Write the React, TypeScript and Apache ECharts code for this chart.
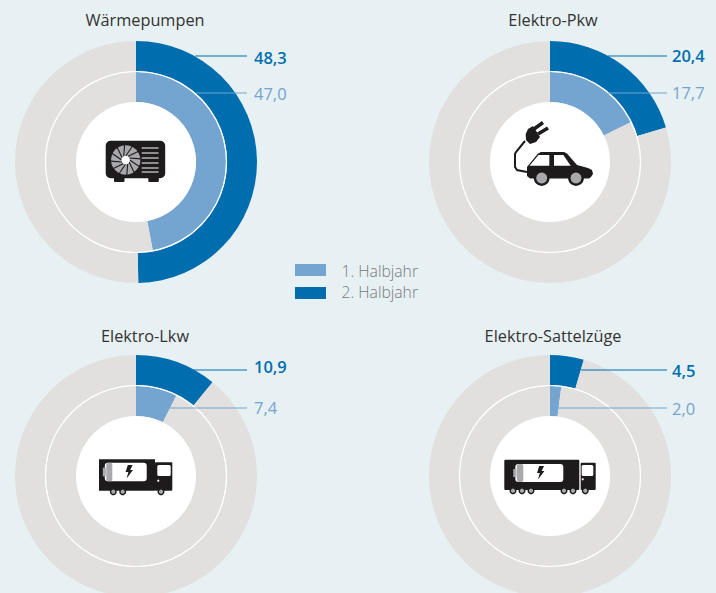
import React, { useEffect, useRef } from "react";
import * as echarts from "echarts";

const titles = ["Wärmepumpen", "Elektro-Pkw", "Elektro-Lkw", "Elektro-Sattelzüge"];
const firstHalfValues = [47.0, 17.7, 7.4, 2.0];
const secondHalfValues = [48.3, 20.4, 10.9, 4.5];
// Share of the ring as it is actually drawn in the picture
const secondHalfDrawn = [49.7, 20.4, 10.9, 4.5];
const legendLabels = ["1. Halbjahr", "2. Halbjahr"];

const DARK = "#006eae";
const LIGHT = "#74a4d0";
const GREY = "#e1e0df";
const BG = "#e7f0f2";
const INK = "#1e1b1c";
const ICON_GREY = "#a9a9ab";
const FONT = '"Open Sans", sans-serif';

const centers: [number, number][] = [[136, 162], [550, 162], [136, 476], [550, 476]];
const titlePos: [number, number][] = [[145, 20], [553, 20], [145, 336], [553, 336]];
const labelX = [254, 672, 254, 672];
const lineEnd = [247, 667, 247, 667];
const darkLine = [
  { y: 56, x0: 195 }, { y: 56, x0: 608 }, { y: 370, x0: 193 }, { y: 370, x0: 581 },
];
const lightLine = [
  { y: 93, x0: 196 }, { y: 93, x0: 608 }, { y: 408, x0: 170 }, { y: 408, x0: 558 },
];
const darkLabelY = [57, 55, 366, 370];
const lightLabelY = [93, 92, 407, 408];

const fmt = (v: number) => v.toFixed(1).replace(".", ",");

const ring = (c: [number, number], radius: [number, number], value: number, color: string) => ({
  type: "pie" as const,
  center: c,
  radius,
  startAngle: 90,
  clockwise: true,
  silent: true,
  label: { show: false },
  labelLine: { show: false },
  z: 1,
  data: [
    { value, itemStyle: { color } },
    { value: 100 - value, itemStyle: { color: GREY } },
  ],
});

echarts.graphic.registerShape(
  "bolt",
  echarts.graphic.extendPath("M2.2,0 L7,0 L4.6,5 L7.4,5 L1,13.5 L2.8,7 L0,7 Z", {}) as any
);

const rect = (x: number, y: number, w: number, h: number, fill: string, r = 0, z = 10) => ({
  type: "rect", z, silent: true, shape: { x, y, width: w, height: h, r }, style: { fill },
});
const circle = (cx: number, cy: number, r: number, fill: string, stroke?: string, lw = 0, z = 10) => ({
  type: "circle", z, silent: true, shape: { cx, cy, r }, style: { fill, stroke, lineWidth: lw },
});
const seg = (x1: number, y1: number, x2: number, y2: number, stroke: string, lw = 1, z = 10) => ({
  type: "line", z, silent: true, shape: { x1, y1, x2, y2 }, style: { stroke, lineWidth: lw },
});
const poly = (points: number[][], fill: string, z = 10) => ({
  type: "polygon", z, silent: true, shape: { points }, style: { fill },
});

function heatPump() {
  const els: any[] = [
    rect(114, 175, 10.5, 7, INK, 1),
    rect(148.3, 175, 10.5, 7, INK, 1),
    rect(105.7, 140.7, 59.5, 37.6, INK, 5),
    circle(125.7, 160, 14.7, ICON_GREY),
  ];
  const blades = 12;
  for (let i = 0; i < blades; i++) {
    const a = (i * 2 * Math.PI) / blades;
    const x1 = 125.7 + 4 * Math.cos(a);
    const y1 = 160 + 4 * Math.sin(a);
    const x2 = 125.7 + 15 * Math.cos(a + 0.45);
    const y2 = 160 + 15 * Math.sin(a + 0.45);
    els.push(seg(x1, y1, x2, y2, INK, 1.1, 11));
  }
  els.push(circle(125.7, 160, 4.2, "#ffffff", undefined, 0, 12));
  [148, 153, 158, 163, 168, 172].forEach((y) => els.push(seg(141.7, y, 158.6, y, "#ffffff", 1, 11)));
  return els;
}

function car() {
  return [
    poly([[527, 167], [538, 153.5], [541, 152], [564, 152], [567, 153.5], [577, 165], [588, 168], [592, 170], [593, 174], [591, 177], [589, 178.5], [530, 178.5], [527, 176]], INK),
    poly([[529.5, 165.7], [538.5, 155], [549.3, 155], [549.3, 165.7]], "#ffffff", 11),
    poly([[554, 155], [563.3, 155], [570.7, 165.7], [554, 165.7]], "#ffffff", 11),
    circle(541.7, 178, 6.7, ICON_GREY, INK, 2.4, 12),
    circle(576, 178, 6.7, ICON_GREY, INK, 2.4, 12),
    {
      type: "polyline", z: 10, silent: true,
      shape: { points: [[525, 141], [516, 152], [515, 154], [515, 167], [517, 170], [527, 172]] },
      style: { stroke: INK, lineWidth: 2, fill: "none" },
    },
    seg(534, 129, 543, 122.5, INK, 3.6),
    seg(538, 134, 548, 128, INK, 3.6),
    poly([[533, 126], [540, 137], [536, 142], [530, 144], [526, 140], [525.7, 134], [528, 129]], INK),
  ];
}

function vehicle(o: {
  box: number[]; cab: number[]; batt: number[]; battGrey: number; bolt: number[];
  win: number[]; dot: number[]; wheels: number[]; wheelY: number; r?: number;
}) {
  const els: any[] = [
    rect(o.box[0], o.box[1], o.box[2] - o.box[0], o.box[3] - o.box[1], INK, o.r ?? 0),
    rect(o.cab[0], o.cab[1], o.cab[2] - o.cab[0], o.cab[3] - o.cab[1], INK, 1),
    rect(o.batt[0], o.batt[1], o.batt[2] - o.batt[0], o.batt[3] - o.batt[1], "#ffffff", 3, 11),
    rect(o.batt[0] + 1.5, o.batt[1], o.battGrey - o.batt[0] - 1.5, o.batt[3] - o.batt[1], ICON_GREY, 2, 12),
    rect(o.batt[0] - 2, o.batt[1] + 5, 3, o.batt[3] - o.batt[1] - 10, ICON_GREY, 0, 11),
    { type: "bolt", x: o.bolt[0] - 3.7, y: o.bolt[1] - 6.7, z: 13, silent: true, style: { fill: INK } },
    rect(o.win[0], o.win[1], o.win[2] - o.win[0], o.win[3] - o.win[1], "#ffffff", 1.5, 11),
    circle(o.dot[0], o.dot[1], 1.1, "#ffffff", undefined, 0, 11),
  ];
  o.wheels.forEach((x) => els.push(circle(x, o.wheelY, 2.8, ICON_GREY, INK, 1.4, 12)));
  return els;
}

export default function App() {
  const ref = useRef<HTMLDivElement>(null);
  useEffect(() => {
    const chart = echarts.init(ref.current!, undefined, { renderer: "svg" });
    const series: any[] = [];
    const graphic: any[] = [];
    centers.forEach((c, i) => {
      series.push(ring(c, [91, 121], secondHalfDrawn[i], DARK));
      series.push(ring(c, [60, 90], firstHalfValues[i], LIGHT));
      graphic.push(circle(c[0], c[1], 90.5, "none", "#ffffff", 1.2, 5));
      graphic.push(circle(c[0], c[1], 60, "#ffffff", undefined, 0, 5));
      graphic.push({
        type: "text", z: 20, silent: true, x: titlePos[i][0], y: titlePos[i][1],
        style: { text: titles[i], font: `400 16.3px ${FONT}`, fill: "#333333", align: "center", verticalAlign: "middle" },
      });
      graphic.push(seg(darkLine[i].x0, darkLine[i].y, lineEnd[i], darkLine[i].y, DARK, 1.2, 6));
      graphic.push(seg(lightLine[i].x0, lightLine[i].y, lineEnd[i], lightLine[i].y, LIGHT, 1.2, 6));
      graphic.push({
        type: "text", z: 20, silent: true, x: labelX[i], y: darkLabelY[i],
        style: { text: fmt(secondHalfValues[i]), font: `600 16.5px ${FONT}`, fill: DARK, align: "left", verticalAlign: "middle" },
      });
      graphic.push({
        type: "text", z: 20, silent: true, x: labelX[i], y: lightLabelY[i],
        style: { text: fmt(firstHalfValues[i]), font: `400 16.5px ${FONT}`, fill: LIGHT, align: "left", verticalAlign: "middle" },
      });
    });
    graphic.push(rect(295, 264, 31, 12, LIGHT));
    graphic.push(rect(295, 287, 31, 12, DARK));
    [271, 292].forEach((y, i) => {
      graphic.push({
        type: "text", z: 20, silent: true, x: 418, y,
        style: { text: legendLabels[i], font: `300 15.7px ${FONT}`, fill: "#767a7c", align: "right", verticalAlign: "middle" },
      });
    });
    graphic.push(...heatPump(), ...car());
    graphic.push(...vehicle({
      box: [99, 459.3, 155, 490.7], cab: [155, 462.3, 172.3, 490.7], batt: [104.8, 462.7, 146.7, 481.3],
      battGrey: 112.3, bolt: [129.3, 471.7], win: [157.3, 465, 170.7, 476], dot: [158.3, 480.7],
      wheels: [113.3, 122.7, 161], wheelY: 491.7,
    }));
    graphic.push(...vehicle({
      box: [504.3, 459.7, 579.3, 490], cab: [580.7, 462.7, 595.7, 490], batt: [515.3, 464, 563.3, 482],
      battGrey: 523.3, bolt: [540.7, 472.7], win: [581.7, 465, 593.3, 476], dot: [582.7, 479.3],
      wheels: [513, 522, 531, 564, 573, 585.3], wheelY: 490.7, r: 1,
    }));
    chart.setOption({
      animation: false,
      backgroundColor: BG,
      series,
      graphic: { elements: graphic },
    });
    return () => chart.dispose();
  }, []);
  return <div ref={ref} style={{ position: "fixed", left: 0, top: 0, width: 716, height: 593 }} />;
}
